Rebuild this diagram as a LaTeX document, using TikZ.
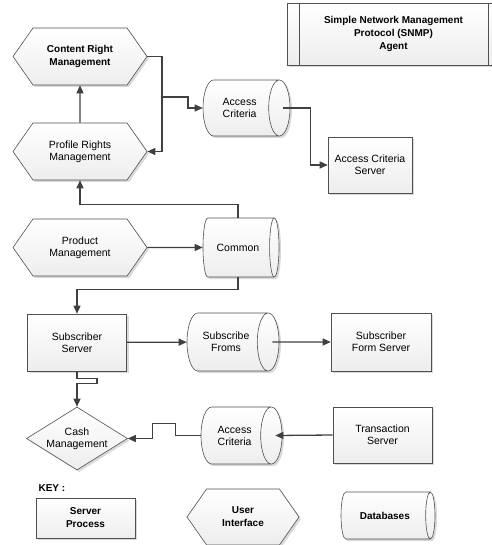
\documentclass[tikz,border=0pt]{standalone}
\usepackage{fontspec}
\setmainfont{Liberation Sans}
\usetikzlibrary{shapes.geometric,shapes.symbols,shadows,arrows.meta}
\definecolor{edgegray}{HTML}{505050}
\definecolor{conngray}{HTML}{404040}

\begin{document}
\begin{tikzpicture}[
    , x = 1pt, y = -1pt
    , txt/.style = {font=\fontsize{10.5}{12}\selectfont, align=center}
    , bold/.style = {font=\fontsize{10}{13}\selectfont\bfseries, align=center}
    , base/.style = {draw=edgegray, line width=0.6pt, top color=white, bottom color=gray!14, drop shadow={shadow xshift=2pt, shadow yshift=-2pt, fill=gray!50, opacity=.6}, inner sep=1pt, txt}
    , server/.style = {base, rectangle}
    , hexa/.style = {base, signal, signal to=east and west, signal pointer angle=110}
    , dbase/.style = {base, cylinder, aspect=1, anchor=shape center}
    , conn/.style = {draw=conngray, line width=1.3pt, -{Triangle[length=8pt,width=7pt]}}
]
\useasboundingbox (0,0) rectangle (491,545);

\node[server, bold, minimum width=213pt, minimum height=62pt,
    path picture={\draw[edgegray, line width=0.6pt] ([xshift=12pt]path picture bounding box.north west) -- ([xshift=12pt]path picture bounding box.south west)
        ([xshift=-12pt]path picture bounding box.north east) -- ([xshift=-12pt]path picture bounding box.south east);}]
    (snmp) at (393.5,34) {Simple Network Management\\Protocol (SNMP)\\Agent};

\node[hexa, bold, minimum width=134pt, minimum height=57pt] (content) at (80,56.5) {Content Right\\Management};
\node[hexa, minimum width=134pt, minimum height=57pt] (profile) at (80,151.5) {Profile Rights\\Management};
\node[hexa, minimum width=134pt, minimum height=57pt] (product) at (80,247.5) {Product\\Management};

\node[dbase, minimum height=87pt, minimum width=56pt] (acc1) at (246.5,108) {Access\\Criteria};
\node[dbase, minimum height=76pt, minimum width=59pt] (common) at (241,247.5) {Common};
\node[dbase, minimum height=92pt, minimum width=58pt] (subform) at (233,342) {Subscribe\\Froms};
\node[dbase, minimum height=81pt, minimum width=57pt] (acc2) at (241.5,435.5) {Access\\Criteria};

\node[server, minimum width=84pt, minimum height=56pt] (accsrv) at (370,165) {Access Criteria\\Server};
\node[server, minimum width=99pt, minimum height=57pt] (subsrv) at (77,342.5) {Subscriber\\Server};
\node[server, minimum width=100pt, minimum height=58pt] (sfsrv) at (381,342) {Subscriber\\Form Server};
\node[server, minimum width=99pt, minimum height=56pt] (trans) at (382.5,435) {Transaction\\Server};

\node[base, diamond, minimum width=101pt, minimum height=63pt, inner sep=0pt,
    label={[txt]center:Cash\\Management}] (cash) at (77,438.5) {};

\coordinate (jct) at (162,97);
\draw[conn] (profile) -- (content);
\draw[conn] (content.east) -| (jct) |- (profile.east);
\draw[conn] (jct) -- ++(26,0) |- (acc1.west);
\draw[conn] ([xshift=-7pt]acc1.east) -- ++(27,0) |- (accsrv.west);
\draw[conn] (common.north) -- ++(0,-13) -| (profile.south);
\draw[conn] (product) -- (common);
\draw[conn] (common.south) -- ++(0,12) -| (subsrv.north);
\draw[conn] (subsrv) -- (subform);
\draw[conn] ([xshift=-7pt]subform.east) -- (sfsrv.west);
\draw[conn] (subsrv.south) -- ++(0,7) -- ++(20,0) -- ++(0,5) -- ++(-20,0) -- (cash.north);
\draw[conn] (trans.west) -- ([xshift=-7pt]acc2.east);
\draw[conn] (acc2.west) -- ++(-25,0) -- ++(0,-12) -- ++(-23,0) |- (cash.east);

\node[bold, anchor=west] (key) at (35,488) {KEY :};
\node[server, bold, minimum width=99pt, minimum height=40pt] (keysrv) at (85.5,518) {Server\\Process};
\node[hexa, bold, minimum width=112pt, minimum height=56pt] (keyui) at (243,517) {User\\Interface};
\node[dbase, bold, minimum height=94pt, minimum width=47pt] (keydb) at (388,515.5) {Databases};
\end{tikzpicture}
\end{document}
